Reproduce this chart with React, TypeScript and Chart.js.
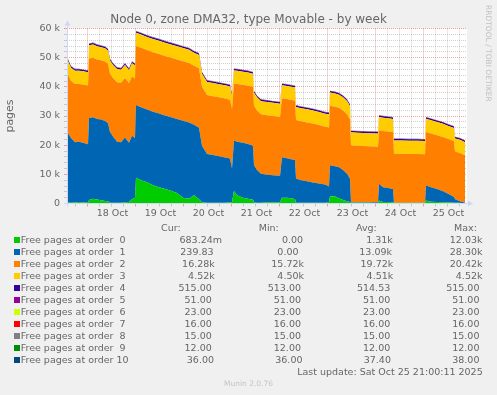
import React, { useEffect, useRef } from 'react';
import { Chart, registerables } from 'chart.js';

Chart.register(...registerables);

// Time of each sample, in hours since 17 Oct 2025 00:00
const HOURS = [
  14, 16, 18, 20, 22, 24.5, 25, 27, 29, 31,
  33, 34.5, 35.5, 37, 39, 41, 43, 45, 46.5, 48,
  48.5, 51, 54, 57, 60, 63, 66, 69, 72, 75,
  77.5, 80, 81.5, 84, 87, 90, 93, 95.5, 96.5, 97.5,
  99, 102, 104.5, 107, 107.5, 109, 111, 114, 117, 120.5,
  121.5, 124, 126, 128, 128.5, 131, 134, 137, 140, 143,
  145, 145.5, 148, 150, 152, 154, 155.5, 156, 159, 162,
  165, 169.5, 170, 172, 174.5, 177, 177.5, 181, 185, 189,
  193, 193.5, 196, 199, 202, 205, 207.5, 208, 210.5, 213,
];

const ORDER0 = [
  400, 300, 400, 300, 400, 300, 1200, 1600, 1400, 1100,
  900, 800, 300, 300, 300, 300, 400, 500, 1500, 2000,
  8800, 8000, 7300, 6300, 5600, 5000, 4400, 3600, 2000, 1600,
  2800, 1500, 400, 300, 300, 300, 300, 400, 400, 4300,
  2800, 2000, 1600, 1300, 400, 300, 300, 400, 400, 400,
  2000, 2000, 1800, 1500, 300, 300, 300, 300, 300, 300,
  400, 2500, 2400, 1800, 1200, 800, 500, 300, 300, 300,
  300, 300, 1000, 500, 500, 400, 300, 300, 300, 300,
  300, 1000, 600, 500, 400, 400, 300, 300, 300, 0.68,
];

const ORDER1 = [
  24300, 22200, 20600, 20900, 20400, 20000, 28100, 28000, 27600, 27700,
  27400, 26700, 24200, 22700, 20900, 20700, 22200, 20300, 21700, 20500,
  25000, 25000, 24900, 25200, 25300, 25200, 25200, 25400, 26400, 26200,
  24200, 24500, 19400, 16700, 16300, 15900, 15500, 15000, 11600, 17300,
  18400, 18800, 18800, 18500, 12700, 11200, 9900, 9500, 9300, 9100,
  13900, 13500, 13400, 13400, 8300, 7700, 7300, 6900, 6600, 6200,
  5400, 10600, 10400, 10600, 10300, 9400, 8000, 100, 100, 100,
  100, 200, 5800, 5100, 4800, 4600, 0, 0, 0, 0,
  0, 5200, 5000, 4500, 3800, 2800, 1900, 1200, 500, 239.83,
];

const ORDER2 = [
  20400, 19500, 20000, 19800, 20000, 20200, 20400, 20400, 20400, 20300,
  20400, 20400, 20000, 20000, 20400, 20400, 20400, 20400, 20400, 20400,
  20200, 20400, 20400, 20400, 20400, 20400, 20400, 20400, 20400, 20400,
  20200, 20400, 20200, 20200, 20200, 20200, 20200, 20200, 20400, 19500,
  19800, 19900, 20000, 20200, 20400, 20400, 20400, 20400, 20300, 20200,
  20100, 20300, 20300, 20400, 20000, 20200, 20200, 20200, 20000, 19800,
  20300, 20400, 20400, 20400, 20400, 20400, 20400, 19500, 19400, 19300,
  19200, 19000, 18300, 19300, 19400, 19500, 16800, 16800, 16700, 16700,
  16600, 18300, 18400, 18400, 18600, 18800, 19200, 16300, 16500, 16280,
];

const ORDER3 = [
  4520, 4520, 4510, 4510, 4510, 4510, 4520, 4520, 4510, 4510,
  4510, 4510, 4510, 4510, 4500, 4500, 4510, 4500, 4510, 4510,
  4520, 4520, 4510, 4510, 4510, 4510, 4510, 4510, 4500, 4510,
  4510, 4510, 4510, 4500, 4500, 4500, 4510, 4510, 4500, 4520,
  4510, 4510, 4510, 4510, 4510, 4500, 4500, 4500, 4510, 4510,
  4520, 4510, 4510, 4510, 4510, 4500, 4500, 4510, 4510, 4510,
  4510, 4520, 4510, 4510, 4510, 4510, 4510, 4500, 4500, 4500,
  4510, 4510, 4520, 4510, 4510, 4510, 4500, 4500, 4510, 4510,
  4510, 4520, 4520, 4510, 4510, 4510, 4510, 4510, 4520, 4520,
];

const ORDER4 = [
  514, 515, 515, 514, 514, 515, 515, 515, 514, 514,
  514, 515, 515, 514, 514, 513, 514, 514, 515, 515,
  515, 515, 514, 514, 514, 515, 515, 514, 514, 514,
  514, 515, 515, 514, 514, 513, 514, 514, 514, 515,
  515, 515, 514, 514, 514, 514, 515, 515, 515, 514,
  514, 514, 515, 515, 515, 514, 514, 514, 514, 515,
  515, 515, 515, 514, 514, 514, 514, 514, 513, 514,
  514, 515, 515, 515, 514, 514, 514, 514, 515, 515,
  515, 515, 515, 514, 514, 515, 515, 515, 515, 515,
];

const ORDER5 = [
  51, 51, 51, 51, 51, 51, 51, 51, 51, 51, 51, 51, 51, 51, 51,
  51, 51, 51, 51, 51, 51, 51, 51, 51, 51, 51, 51, 51, 51, 51,
  51, 51, 51, 51, 51, 51, 51, 51, 51, 51, 51, 51, 51, 51, 51,
  51, 51, 51, 51, 51, 51, 51, 51, 51, 51, 51, 51, 51, 51, 51,
  51, 51, 51, 51, 51, 51, 51, 51, 51, 51, 51, 51, 51, 51, 51,
  51, 51, 51, 51, 51, 51, 51, 51, 51, 51, 51, 51, 51, 51, 51,
];

const ORDER6 = [
  23, 23, 23, 23, 23, 23, 23, 23, 23, 23, 23, 23, 23, 23, 23,
  23, 23, 23, 23, 23, 23, 23, 23, 23, 23, 23, 23, 23, 23, 23,
  23, 23, 23, 23, 23, 23, 23, 23, 23, 23, 23, 23, 23, 23, 23,
  23, 23, 23, 23, 23, 23, 23, 23, 23, 23, 23, 23, 23, 23, 23,
  23, 23, 23, 23, 23, 23, 23, 23, 23, 23, 23, 23, 23, 23, 23,
  23, 23, 23, 23, 23, 23, 23, 23, 23, 23, 23, 23, 23, 23, 23,
];

const ORDER7 = [
  16, 16, 16, 16, 16, 16, 16, 16, 16, 16, 16, 16, 16, 16, 16,
  16, 16, 16, 16, 16, 16, 16, 16, 16, 16, 16, 16, 16, 16, 16,
  16, 16, 16, 16, 16, 16, 16, 16, 16, 16, 16, 16, 16, 16, 16,
  16, 16, 16, 16, 16, 16, 16, 16, 16, 16, 16, 16, 16, 16, 16,
  16, 16, 16, 16, 16, 16, 16, 16, 16, 16, 16, 16, 16, 16, 16,
  16, 16, 16, 16, 16, 16, 16, 16, 16, 16, 16, 16, 16, 16, 16,
];

const ORDER8 = [
  15, 15, 15, 15, 15, 15, 15, 15, 15, 15, 15, 15, 15, 15, 15,
  15, 15, 15, 15, 15, 15, 15, 15, 15, 15, 15, 15, 15, 15, 15,
  15, 15, 15, 15, 15, 15, 15, 15, 15, 15, 15, 15, 15, 15, 15,
  15, 15, 15, 15, 15, 15, 15, 15, 15, 15, 15, 15, 15, 15, 15,
  15, 15, 15, 15, 15, 15, 15, 15, 15, 15, 15, 15, 15, 15, 15,
  15, 15, 15, 15, 15, 15, 15, 15, 15, 15, 15, 15, 15, 15, 15,
];

const ORDER9 = [
  12, 12, 12, 12, 12, 12, 12, 12, 12, 12, 12, 12, 12, 12, 12,
  12, 12, 12, 12, 12, 12, 12, 12, 12, 12, 12, 12, 12, 12, 12,
  12, 12, 12, 12, 12, 12, 12, 12, 12, 12, 12, 12, 12, 12, 12,
  12, 12, 12, 12, 12, 12, 12, 12, 12, 12, 12, 12, 12, 12, 12,
  12, 12, 12, 12, 12, 12, 12, 12, 12, 12, 12, 12, 12, 12, 12,
  12, 12, 12, 12, 12, 12, 12, 12, 12, 12, 12, 12, 12, 12, 12,
];

const ORDER10 = [
  38, 38, 38, 38, 38, 38, 38, 38, 38, 38, 38, 38, 38, 38, 38,
  38, 38, 38, 38, 38, 38, 38, 38, 38, 38, 38, 38, 38, 38, 38,
  38, 38, 38, 38, 38, 38, 38, 38, 38, 38, 37, 37, 37, 37, 37,
  37, 37, 37, 37, 37, 37, 37, 37, 37, 37, 37, 37, 37, 37, 37,
  37, 37, 37, 37, 37, 37, 37, 37, 37, 37, 36, 36, 36, 36, 36,
  36, 36, 36, 36, 36, 36, 36, 36, 36, 36, 36, 36, 36, 36, 36,
];

const LABELS = [
  'Free pages at order  0', 'Free pages at order  1', 'Free pages at order  2',
  'Free pages at order  3', 'Free pages at order  4', 'Free pages at order  5',
  'Free pages at order  6', 'Free pages at order  7', 'Free pages at order  8',
  'Free pages at order  9', 'Free pages at order 10',
];
const COLORS = [
  '#00cc00', '#0066b3', '#ff8000', '#ffcc00', '#330099', '#990099',
  '#ccff00', '#ff0000', '#808080', '#008f00', '#00487d',
];
const VALUES = [ORDER0, ORDER1, ORDER2, ORDER3, ORDER4, ORDER5, ORDER6, ORDER7, ORDER8, ORDER9, ORDER10];

const CUR = ['683.24m', '239.83 ', ' 16.28k', '  4.52k', '515.00 ', ' 51.00 ', ' 23.00 ', ' 16.00 ', ' 15.00 ', ' 12.00 ', ' 36.00 '];
const MIN = ['  0.00 ', '  0.00 ', ' 15.72k', '  4.50k', '513.00 ', ' 51.00 ', ' 23.00 ', ' 16.00 ', ' 15.00 ', ' 12.00 ', ' 36.00 '];
const AVG = ['  1.31k', ' 13.09k', ' 19.72k', '  4.51k', '514.53 ', ' 51.00 ', ' 23.00 ', ' 16.00 ', ' 15.00 ', ' 12.00 ', ' 37.40 '];
const MAX = [' 12.03k', ' 28.30k', ' 20.42k', '  4.52k', '515.00 ', ' 51.00 ', ' 23.00 ', ' 16.00 ', ' 15.00 ', ' 12.00 ', ' 38.00 '];

const DAY_LABELS = ['18 Oct', '19 Oct', '20 Oct', '21 Oct', '22 Oct', '23 Oct', '24 Oct', '25 Oct'];
const DAY_NOON_HOURS = [36, 60, 84, 108, 132, 156, 180, 204];

const TITLE = 'Node 0, zone DMA32, type Movable - by week';
const Y_TITLE = 'pages';
const LAST_UPDATE = 'Last update: Sat Oct 25 21:00:11 2025';

const FONT = '"DejaVu Sans", sans-serif';
const MINOR = 'rgba(143,143,143,0.42)';
const MAJOR = 'rgba(222,80,80,0.5)';
const AXIS = '#cfd6f8';

const xGrid: number[] = [];
for (let h = 18; h <= 210; h += 6) xGrid.push(h);

const bgPlugin = {
  id: 'rrdBg',
  beforeDraw(chart: any) {
    const { ctx, chartArea: a, width, height } = chart;
    ctx.save();
    ctx.fillStyle = '#f0f0f0';
    ctx.fillRect(0, 0, width, height);
    ctx.fillStyle = '#ffffff';
    ctx.fillRect(a.left, a.top, a.right - a.left, a.bottom - a.top);
    ctx.restore();
  },
};

const axisPlugin = {
  id: 'rrdAxes',
  afterDraw(chart: any) {
    const { ctx, chartArea: a } = chart;
    const yb = Math.floor(a.bottom) + 0.5;
    const xl = Math.floor(a.left) + 0.5;
    ctx.save();
    ctx.strokeStyle = AXIS;
    ctx.fillStyle = AXIS;
    ctx.lineWidth = 1;
    ctx.beginPath();
    ctx.moveTo(a.left - 3, yb);
    ctx.lineTo(a.right + 2, yb);
    ctx.moveTo(xl, a.bottom + 3);
    ctx.lineTo(xl, a.top - 3);
    ctx.stroke();
    ctx.beginPath();
    ctx.moveTo(a.right + 6, yb);
    ctx.lineTo(a.right + 1, yb - 3);
    ctx.lineTo(a.right + 1, yb + 3);
    ctx.closePath();
    ctx.fill();
    ctx.beginPath();
    ctx.moveTo(xl, a.top - 8);
    ctx.lineTo(xl - 3, a.top - 3);
    ctx.lineTo(xl + 3, a.top - 3);
    ctx.closePath();
    ctx.fill();
    ctx.restore();
  },
};

export default function App() {
  const ref = useRef<HTMLCanvasElement>(null);

  useEffect(() => {
    if (!ref.current) return;
    Chart.defaults.font.family = FONT;
    Chart.defaults.color = '#666666';
    const chart = new Chart(ref.current, {
      type: 'line',
      data: {
        datasets: VALUES.map((vals, i) => ({
          label: LABELS[i],
          data: HOURS.map((h, j) => ({ x: h, y: vals[j] })),
          backgroundColor: COLORS[i],
          borderColor: 'rgba(0,0,0,0)',
          borderWidth: 0,
          fill: i === 0 ? 'origin' : '-1',
          pointRadius: 0,
          tension: 0,
        })),
      },
      options: {
        animation: false,
        responsive: false,
        maintainAspectRatio: false,
        devicePixelRatio: 1,
        layout: { padding: { left: 0, right: 30, top: 28.5, bottom: 171.5 } },
        plugins: {
          legend: { display: false },
          tooltip: { enabled: false },
          title: { display: false },
        },
        scales: {
          x: {
            type: 'linear',
            min: 14,
            max: 214,
            z: 1,
            afterFit: (s: any) => { s.height = 20; },
            afterBuildTicks: (s: any) => { s.ticks = xGrid.map((value) => ({ value })); },
            grid: {
              color: (c: any) => (c.tick && c.tick.value % 24 === 0 ? MAJOR : MINOR),
              lineWidth: 1,
              drawTicks: true,
              tickLength: 3,
            },
            border: { display: false, dash: [1, 1] },
            ticks: {
              autoSkip: false,
              maxRotation: 0,
              minRotation: 0,
              padding: 1,
              labelOffset: 1.5,
              color: '#666666',
              font: { family: FONT, size: 9.5 },
              callback: (v: any) => {
                const i = DAY_NOON_HOURS.indexOf(Number(v));
                return i >= 0 ? DAY_LABELS[i] : '';
              },
            },
          },
          y: {
            stacked: true,
            min: 0,
            max: 60000,
            z: 1,
            afterFit: (s: any) => { s.width = 67; },
            grid: {
              color: (c: any) => (c.tick && c.tick.value % 10000 === 0 ? MAJOR : MINOR),
              lineWidth: 1,
              drawTicks: true,
              tickLength: 3,
            },
            border: { display: false, dash: [1, 1] },
            title: {
              display: true,
              text: Y_TITLE,
              color: '#666666',
              font: { family: FONT, size: 11 },
              padding: { top: 4, bottom: 4 },
            },
            ticks: {
              stepSize: 2000,
              autoSkip: false,
              padding: 4,
              color: '#666666',
              font: { family: FONT, size: 9.5 },
              callback: (v: any) => {
                const n = Number(v);
                if (n === 0) return '0';
                return n % 10000 === 0 ? `${n / 1000} k` : '';
              },
            },
          },
        },
      },
      plugins: [bgPlugin, axisPlugin],
    } as any);
    return () => chart.destroy();
  }, []);

  const rowStyle = (top: number): React.CSSProperties => ({
    position: 'absolute',
    left: 14,
    width: 468.5,
    top,
    height: 12,
    lineHeight: '12px',
    display: 'flex',
    justifyContent: 'space-between',
    alignItems: 'center',
    whiteSpace: 'pre',
    fontSize: 9.5,
  });

  return (
    <div
      style={{
        position: 'fixed',
        left: 0,
        top: 0,
        width: 497,
        height: 395,
        background: '#f0f0f0',
        overflow: 'hidden',
        fontFamily: FONT,
        color: '#666666',
      }}
    >
      <canvas ref={ref} width={497} height={395} style={{ position: 'absolute', left: 0, top: 0, width: 497, height: 395 }} />
      <div style={{ position: 'absolute', left: 0, width: 497, top: 11.5, lineHeight: '14px', fontSize: 12, textAlign: 'center', whiteSpace: 'pre' }}>
        {TITLE}
      </div>
      <div
        style={{
          position: 'absolute',
          left: 484,
          top: 5,
          writingMode: 'vertical-rl',
          fontSize: 7.5,
          lineHeight: '8px',
          color: '#c0c0c0',
          whiteSpace: 'pre',
        }}
      >
        RRDTOOL / TOBI OETIKER
      </div>
      {['Cur:', 'Min:', 'Avg:', 'Max:'].map((h, i) => (
        <div
          key={h}
          style={{ position: 'absolute', left: [161, 258.7, 356, 454][i], top: 222, lineHeight: '12px', fontSize: 9.5, whiteSpace: 'pre' }}
        >
          {h}
        </div>
      ))}
      {LABELS.map((label, i) => (
        <div key={label} style={rowStyle(234 + 12 * i)}>
          <span style={{ display: 'flex', alignItems: 'center' }}>
            <span style={{ display: 'inline-block', width: 6, height: 6, background: COLORS[i], marginRight: 0.7 }} />
            {label}
          </span>
          <span>{CUR[i]}</span>
          <span>{MIN[i]}</span>
          <span>{AVG[i]}</span>
          <span>{MAX[i]}</span>
        </div>
      ))}
      <div style={{ position: 'absolute', right: 14.3, top: 366, lineHeight: '12px', fontSize: 9.5, whiteSpace: 'pre' }}>
        {LAST_UPDATE}
      </div>
      <div style={{ position: 'absolute', left: 0, width: 497, top: 379, lineHeight: '10px', fontSize: 7.5, textAlign: 'center', color: '#c4c4c4' }}>
        Munin 2.0.76
      </div>
    </div>
  );
}
